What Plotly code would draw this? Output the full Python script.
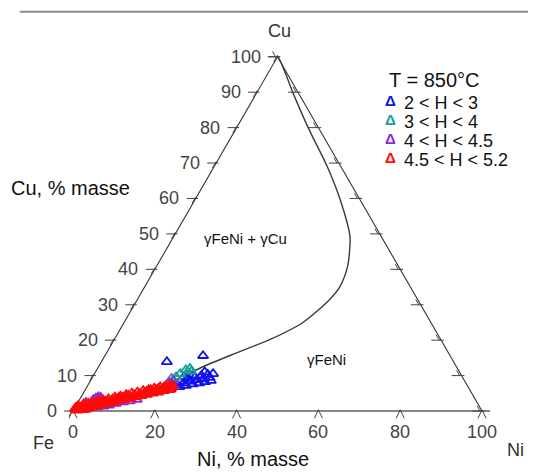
import math
import plotly.graph_objects as go

# ---------------- data (Ni %, Cu %) ----------------
red_ni = [0.3, 0.8, 1.2, 1.6, 2.1, 2.4, 2.9, 3.3, 3.6, 4.1, 4.4, 4.9, 5.3, 5.8, 6.1, 6.6, 7.0, 7.4, 7.9, 8.3,
          8.6, 9.1, 9.5, 9.8, 10.3, 10.7, 11.1, 11.5, 11.9, 12.2, 12.7, 13.1, 13.4, 13.9, 14.3, 14.6, 15.1,
          15.5, 15.8, 16.3, 16.7, 17.0, 17.5, 17.9, 18.2, 18.7, 19.1, 19.4, 19.9, 20.3, 20.6, 21.0,
          0.5, 1.0, 1.8, 3.0, 0.2, 5.0, 7.7, 10.0, 12.5, 15.0, 17.3, 19.6,
          1.4, 2.7, 3.9, 5.6, 6.4, 8.1, 9.3, 10.9, 11.7, 13.6, 14.9, 16.0, 17.7, 18.9, 20.1,
          2.2, 4.6, 6.9, 8.9, 11.3, 13.0, 15.3, 16.9, 18.4, 20.8]
red_cu = [0.5, 1.2, 0.4, 2.0, 1.0, 0.3, 1.6, 2.4, 0.9, 1.8, 2.9, 1.2, 2.3, 3.1, 1.7, 2.6, 3.4, 2.0, 3.0, 3.9,
          2.4, 3.3, 4.2, 2.9, 3.8, 4.6, 3.2, 4.1, 5.0, 3.6, 4.5, 5.3, 3.9, 4.8, 5.7, 4.3, 5.2,
          6.0, 4.6, 5.5, 6.4, 5.0, 5.9, 6.8, 5.3, 6.2, 7.1, 5.7, 6.6, 7.5, 6.0, 7.0,
          1.5, 0.2, 1.3, 0.5, 1.0, 2.0, 2.7, 3.6, 4.2, 5.0, 5.6, 6.3,
          1.0, 2.1, 1.4, 2.7, 2.2, 3.4, 3.7, 4.3, 3.8, 4.2, 4.9, 6.0, 6.3, 6.7, 7.1,
          1.8, 2.4, 2.9, 3.1, 4.4, 4.0, 5.5, 5.4, 5.8, 6.6]

purple_ni = [1.5, 2.6, 3.8, 4.2, 4.6, 3.9, 5.5, 6.8, 8.0, 9.4, 11.0, 12.5, 14.0, 2.0, 19.5, 20.2, 4.9, 3.4]
purple_cu = [0.8, 1.4, 3.6, 4.0, 3.3, 2.8, 1.0, 1.3, 1.6, 2.1, 2.5, 2.8, 3.2, 2.4, 8.0, 8.6, 3.8, 3.2]

blue_ni = [20.8, 21.5, 22.0, 22.6, 23.1, 23.5, 24.0, 24.6, 25.0, 25.5, 26.0, 26.4, 26.9, 27.3, 27.8,
           28.2, 28.7, 29.0, 29.4, 24.3, 26.7, 22.3, 16.0, 24.0]
blue_cu = [6.2, 7.4, 8.3, 6.8, 7.9, 9.0, 7.2, 8.4, 9.5, 7.6, 8.8, 10.0, 7.9, 9.1, 10.3,
           8.2, 9.4, 10.5, 8.6, 10.1, 11.0, 9.6, 13.9, 15.6]

teal_ni = [21.0, 21.8, 22.6, 20.4, 23.3, 19.5]
teal_cu = [10.5, 11.6, 12.0, 9.6, 11.2, 9.2]

curve_ni = [0.0, 1.2, 10.1, 18.4, 27.4, 35.3, 43.0, 44.8, 46.7, 47.7, 47.0, 43.7, 38.1, 31.9, 25.5, 22.1]
curve_cu = [100.0, 98.9, 88.4, 79.0, 69.3, 59.9, 49.4, 45.7, 40.9, 35.2, 31.5, 25.0, 20.2, 16.5, 12.5, 9.7]

cu_ticks = [0, 10, 20, 30, 40, 50, 60, 70, 80, 90, 100]
ni_ticks = [0, 20, 40, 60, 80, 100]
right_ticks = [0, 10, 20, 30, 40, 50, 60, 70, 80, 90, 100]

series = [
    ("2 < H < 3", blue_ni, blue_cu, "#1010ee"),
    ("3 < H < 4", teal_ni, teal_cu, "#17a096"),
    ("4 < H < 4.5", purple_ni, purple_cu, "#8a2be2"),
    ("4.5 < H < 5.2", red_ni, red_cu, "#ff0a0a"),
]
legend_title = "T = 850°C"

S3 = math.sqrt(3) / 2
FONT = "Liberation Sans, Arial, Helvetica, sans-serif"


def tx(ni, cu):
    return ni + cu / 2.0


def ty(cu):
    return cu * S3


fig = go.Figure()

# top grey rule
fig.add_trace(go.Scatter(x=[-13, 114], y=[97.6, 97.6], mode="lines",
                         line=dict(color="#8a8a8a", width=2), hoverinfo="skip", showlegend=False))

# triangle edges
fig.add_trace(go.Scatter(x=[tx(0, 0), tx(0, 100), tx(100, 0)], y=[ty(0), ty(100), ty(0)], mode="lines",
                         line=dict(color="#333333", width=1.1), hoverinfo="skip", showlegend=False))
fig.add_trace(go.Scatter(x=[tx(0, 0) - 1, tx(100, 0) + 2], y=[0, 0], mode="lines",
                         line=dict(color="#888888", width=1.8), hoverinfo="skip", showlegend=False))

# tick marks
tkx, tky = [], []
for v in cu_ticks:  # left edge
    x0, y0 = tx(0, v), ty(v)
    tkx += [x0 - 2.2, x0 + 0.6, None]
    tky += [y0, y0, None]
    tkx += [x0 - 0.9, x0 + 0.0, None]
    tky += [y0 - 1.2, y0 + 0.4, None]
for v in ni_ticks:  # bottom edge
    x0 = tx(v, 0)
    tkx += [x0 - 1.0, x0, x0 + 1.0, None]
    tky += [-1.8, 0.3, -1.8, None]
for v in right_ticks:  # right edge
    x0, y0 = tx(100 - v, v), ty(v)
    tkx += [x0 - 2.4, x0 + 0.7, None]
    tky += [y0, y0, None]
    tkx += [x0 - 1.2, x0 - 0.4, None]
    tky += [y0 + 1.3, y0 - 0.1, None]
fig.add_trace(go.Scatter(x=tkx, y=tky, mode="lines", line=dict(color="#444444", width=1),
                         hoverinfo="skip", showlegend=False))

# phase boundary
fig.add_trace(go.Scatter(x=[tx(n, c) for n, c in zip(curve_ni, curve_cu)], y=[ty(c) for c in curve_cu],
                         mode="lines", line=dict(color="#3a3a3a", width=1.4, shape="spline", smoothing=0.8),
                         hoverinfo="skip", showlegend=False))

# data series
for name, ni, cu, col in series:
    fig.add_trace(go.Scatter(
        x=[tx(n, c) for n, c in zip(ni, cu)], y=[ty(c) for c in cu],
        mode="markers", name=name, showlegend=False,
        marker=dict(symbol="triangle-up-open", size=9, color=col, line=dict(width=1.8, color=col)),
    ))

ann = []
lab_font = dict(family=FONT, size=18, color="#444444")
for v in cu_ticks:
    ann.append(dict(x=tx(0, v) - 3.5, y=ty(v), text=str(v), xanchor="right", yanchor="middle",
                    showarrow=False, font=lab_font))
for v in ni_ticks:
    ann.append(dict(x=tx(v, 0), y=-5.1, text=str(v), xanchor="center", yanchor="middle",
                    showarrow=False, font=lab_font))

big = dict(family=FONT, size=20, color="#111111")
corner = dict(family=FONT, size=18, color="#333333")
ann += [
    dict(x=50.4, y=92.9, text="Cu", showarrow=False, font=corner),
    dict(x=-7.3, y=-7.8, text="Fe", showarrow=False, font=corner),
    dict(x=108.3, y=-9.5, text="Ni", showarrow=False, font=corner),
    dict(x=44.0, y=-11.7, text="Ni, % masse", showarrow=False, font=big),
    dict(x=-0.5, y=54.5, text="Cu, % masse", showarrow=False, font=big),
    dict(x=42.1, y=42.3, text="γFeNi + γCu", showarrow=False, font=dict(family=FONT, size=15, color="#111111")),
    dict(x=61.9, y=12.5, text="γFeNi", showarrow=False, font=dict(family=FONT, size=15, color="#111111")),
    dict(x=76.8, y=80.9, text=legend_title, xanchor="left", showarrow=False, font=big),
]

# legend (as text)
row_y = [75.3, 70.7, 66.0, 61.4]
for (name, ni, cu, col), yy in zip(series, row_y):
    ann.append(dict(x=77.6, y=yy + 0.6, text="<b>Δ</b>", showarrow=False,
                    font=dict(family=FONT, size=15, color=col)))
    ann.append(dict(x=80.4, y=yy, text=name, xanchor="left", showarrow=False,
                    font=dict(family=FONT, size=18, color="#111111")))

fig.update_layout(
    width=528, height=464,
    margin=dict(l=0, r=0, t=0, b=0),
    paper_bgcolor="white", plot_bgcolor="white",
    xaxis=dict(range=[-15.89, 113.2], visible=False, fixedrange=True),
    yaxis=dict(range=[-14.91, 98.53], visible=False, fixedrange=True),
    annotations=ann,
    showlegend=False,
)

fig.write_html("out.html")
